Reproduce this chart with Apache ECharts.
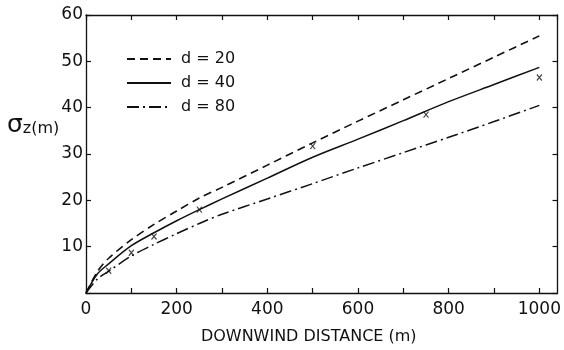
<!DOCTYPE html>
<html>
<head>
<meta charset="utf-8">
<script src="https://cdn.jsdelivr.net/npm/echarts@6/dist/echarts.min.js"></script>
<style>
  html, body { margin: 0; padding: 0; background: #fff; }
  #chart { width: 564px; height: 350px; }
</style>
</head>
<body>
<div id="chart"></div>
<script>
// downwind distance (m) at which the curves were read
const distance = [0, 25, 50, 100, 150, 200, 250, 300, 400, 500, 600, 700, 800, 900, 1000]
// sigma z (m) for each release height
const sigmaD20 = [0, 4.6, 7.5, 11.5, 14.8, 17.7, 20.5, 22.8, 27.6, 32.4, 37.1, 41.7, 46.3, 50.9, 55.5]
const sigmaD40 = [0, 4.1, 6.3, 10.2, 13, 15.6, 18, 20.3, 24.8, 29.3, 33.2, 37.2, 41.3, 45, 48.7]
const sigmaD80 = [0, 3, 4.7, 8, 10.5, 12.8, 15, 17, 20.3, 23.6, 27, 30.3, 33.6, 37, 40.5]
// observed points (x marks)
const obsX = [50, 100, 150, 250, 500, 750, 1000]
const obsSigma = [4.8, 8.7, 12.2, 18, 31.7, 38.5, 46.5]

const legendNames = ['d = 20', 'd = 40', 'd = 80']
const xTicks = [0, 200, 400, 600, 800, 1000]
const yTicks = [10, 20, 30, 40, 50, 60]

function pairs (xs, ys) {
    let out = []
    for (var i = 0; i < xs.length; i++) {
        out.push([xs[i], ys[i]])
    }
    return out
}

const font = 'DejaVu Sans'
const ink = '#111'
const axisBase = {
    min: 0,
    axisLine: { show: true, onZero: false, lineStyle: { color: ink, width: 1.3 } },
    axisTick: { show: true, inside: true, length: 5, lineStyle: { color: ink, width: 1.2 } },
    splitLine: { show: false }
}

let myChart = echarts.init(document.getElementById('chart'), null, { renderer: 'canvas' })

myChart.setOption({
    backgroundColor: '#fff',
    animation: false,
    color: [ink, ink, ink, ink],
    grid: { left: 86, right: 5, top: 15, bottom: 56 },
    legend: {
        data: legendNames,
        orient: 'vertical',
        left: 126,
        top: 51,
        padding: 0,
        itemWidth: 44,
        itemHeight: 14,
        itemGap: 8,
        itemStyle: { opacity: 0 },
        textStyle: { fontFamily: font, fontSize: 16, color: ink, padding: [0, 0, 0, 5] }
    },
    xAxis: [
        Object.assign({}, axisBase, {
            type: 'value',
            position: 'bottom',
            max: 1040,
            interval: 100,
            name: 'DOWNWIND DISTANCE (m)',
            nameLocation: 'middle',
            nameGap: 36,
            nameTextStyle: { fontFamily: font, fontSize: 16, color: ink, padding: [0, 26, 0, 0] },
            axisLabel: {
                margin: 8,
                fontFamily: font,
                fontSize: 17,
                color: ink,
                showMaxLabel: false,
                formatter: function (v) { return xTicks.indexOf(v) >= 0 ? String(v) : '' }
            }
        }),
        Object.assign({}, axisBase, {
            type: 'value',
            position: 'top',
            max: 1040,
            interval: 100,
            axisLabel: { show: false }
        })
    ],
    yAxis: [
        Object.assign({}, axisBase, {
            type: 'value',
            position: 'left',
            max: 60,
            interval: 10,
            axisLabel: {
                margin: 3,
                fontFamily: font,
                fontSize: 17,
                color: ink,
                formatter: function (v) { return yTicks.indexOf(v) >= 0 ? String(v) : '' }
            }
        }),
        Object.assign({}, axisBase, {
            type: 'value',
            position: 'right',
            max: 60,
            interval: 10,
            axisLabel: { show: false }
        })
    ],
    graphic: [{
        type: 'text',
        left: 7,
        top: 113,
        style: {
            text: '{s|σ}{z|z(m)}',
            rich: {
                s: { fontFamily: font, fontSize: 25, fill: ink, verticalAlign: 'bottom' },
                z: { fontFamily: font, fontSize: 16, fill: ink, verticalAlign: 'bottom', padding: [0, 0, 1, 0] }
            }
        }
    }],
    series: [
        {
            name: 'd = 20',
            type: 'line',
            data: pairs(distance, sigmaD20),
            smooth: 0.3,
            symbol: 'none',
            itemStyle: { color: ink },
            lineStyle: { color: ink, width: 1.6, type: [8, 5] }
        },
        {
            name: 'd = 40',
            type: 'line',
            data: pairs(distance, sigmaD40),
            smooth: 0.3,
            symbol: 'none',
            itemStyle: { color: ink },
            lineStyle: { color: ink, width: 1.5, type: 'solid' }
        },
        {
            name: 'd = 80',
            type: 'line',
            data: pairs(distance, sigmaD80),
            smooth: 0.3,
            symbol: 'none',
            itemStyle: { color: ink },
            lineStyle: { color: ink, width: 1.5, type: [12, 4, 2, 4] }
        },
        {
            name: 'observed',
            type: 'scatter',
            data: pairs(obsX, obsSigma),
            symbol: 'path://M0,0L10,12M10,0L0,12',
            symbolSize: [5, 6],
            itemStyle: { color: 'transparent', borderColor: ink, borderWidth: 1.2 },
            z: 5
        }
    ]
})
</script>
</body>
</html>
